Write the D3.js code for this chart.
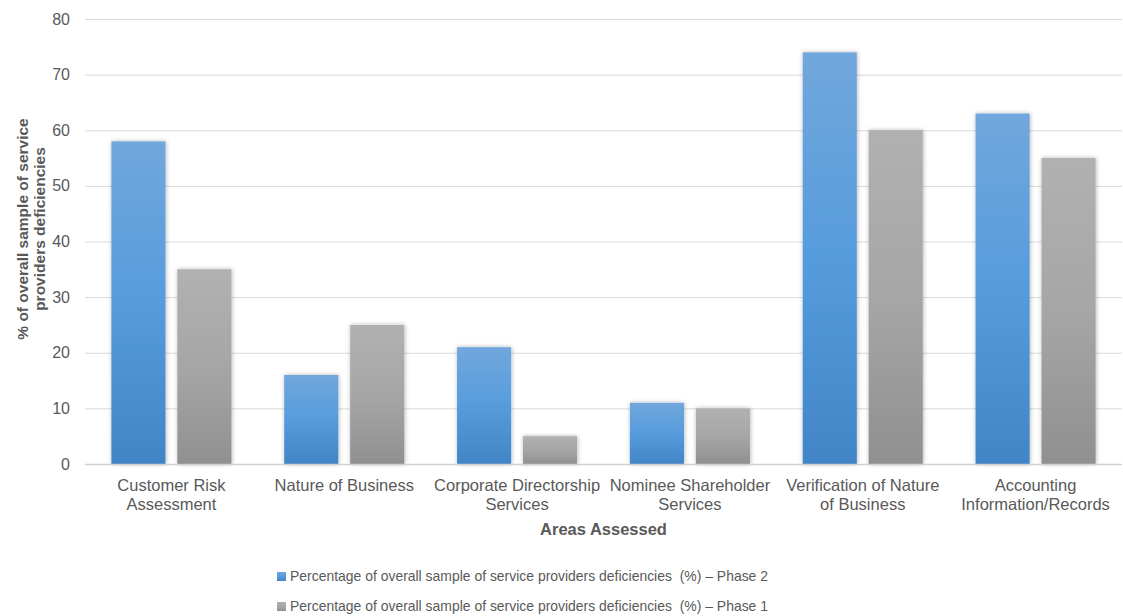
<!DOCTYPE html>
<html>
<head>
<meta charset="utf-8">
<script src="https://cdn.jsdelivr.net/npm/d3@7/dist/d3.min.js"></script>
<style>
  html, body { margin: 0; padding: 0; background: #fff; }
  svg { display: block; font-family: "Liberation Sans", Arial, sans-serif; }
</style>
</head>
<body>
<svg id="chart" width="1123" height="616"></svg>
<script>
const categories = [
  ["Customer Risk", "Assessment"],
  ["Nature of Business"],
  ["Corporate Directorship", "Services"],
  ["Nominee Shareholder", "Services"],
  ["Verification of Nature", "of Business"],
  ["Accounting", "Information/Records"]
];
const phase2 = [58, 16, 21, 11, 74, 63];
const phase1 = [35, 25, 5, 10, 60, 55];
const yTicks = [0, 10, 20, 30, 40, 50, 60, 70, 80];
const seriesNames = [
  "Percentage of overall sample of service providers deficiencies  (%) \u2013 Phase 2",
  "Percentage of overall sample of service providers deficiencies  (%) \u2013 Phase 1"
];
const yTitle = ["% of overall sample of service", "providers deficiencies"];
const xTitle = "Areas Assessed";

(function() {
const svg = d3.select("#chart");
const pLeft = 85, pRight = 1122, pTop = 19, pBottom = 464;

const defs = svg.append("defs");
const gBlue = defs.append("linearGradient").attr("id", "gBlue").attr("x1", 0).attr("y1", 0).attr("x2", 0).attr("y2", 1);
gBlue.append("stop").attr("offset", "0%").attr("stop-color", "#71a7dc");
gBlue.append("stop").attr("offset", "50%").attr("stop-color", "#569cdd");
gBlue.append("stop").attr("offset", "100%").attr("stop-color", "#4185c6");
const gGray = defs.append("linearGradient").attr("id", "gGray").attr("x1", 0).attr("y1", 0).attr("x2", 0).attr("y2", 1);
gGray.append("stop").attr("offset", "0%").attr("stop-color", "#b1b1b1");
gGray.append("stop").attr("offset", "50%").attr("stop-color", "#a6a6a6");
gGray.append("stop").attr("offset", "100%").attr("stop-color", "#909090");
const f = defs.append("filter").attr("id", "shadow").attr("x", "-20%").attr("y", "-10%").attr("width", "140%").attr("height", "120%");
f.append("feDropShadow").attr("dx", 0.5).attr("dy", 0).attr("stdDeviation", 2).attr("flood-color", "#000").attr("flood-opacity", 0.3);

const x = d3.scaleBand().domain(d3.range(categories.length)).range([pLeft, pRight]).paddingInner(0).paddingOuter(0);
const xs = d3.scaleBand().domain([0, 1]).range([0, x.bandwidth()]).paddingInner(0.18).paddingOuter(0.4);
const y = d3.scaleLinear().domain([0, 80]).range([pBottom, pTop]);

svg.append("g").selectAll("line").data(yTicks.filter(d => d > 0)).join("line")
  .attr("x1", pLeft).attr("x2", pRight)
  .attr("y1", d => y(d) + 0.5).attr("y2", d => y(d) + 0.5)
  .attr("stroke", "#d9d9d9").attr("stroke-width", 1);

svg.append("g").selectAll("text").data(yTicks).join("text")
  .attr("x", 70).attr("y", d => y(d))
  .attr("dy", "0.35em").attr("text-anchor", "end")
  .attr("font-size", 16).attr("fill", "#595959")
  .text(d => d);

const series = [phase2, phase1];
const fills = ["url(#gBlue)", "url(#gGray)"];
series.forEach((vals, si) => {
  svg.append("g").selectAll("rect").data(vals).join("rect")
    .attr("x", (d, i) => x(i) + xs(si))
    .attr("width", xs.bandwidth())
    .attr("y", d => y(d))
    .attr("height", d => y(0) - y(d))
    .attr("fill", fills[si])
    .attr("filter", "url(#shadow)");
});

svg.append("line").attr("x1", pLeft).attr("x2", pRight)
  .attr("y1", pBottom + 0.5).attr("y2", pBottom + 0.5)
  .attr("stroke", "#d0d0d0").attr("stroke-width", 1.5);

const xl = svg.append("g").selectAll("text").data(categories).join("text")
  .attr("text-anchor", "middle").attr("font-size", 16.5).attr("fill", "#595959")
  .attr("x", (d, i) => x(i) + x.bandwidth() / 2)
  .attr("y", 491);
xl.each(function(d, i) {
  const cx = x(i) + x.bandwidth() / 2;
  d3.select(this).selectAll("tspan").data(d).join("tspan")
    .attr("x", cx)
    .attr("dy", (t, j) => j === 0 ? 0 : 19)
    .text(t => t);
});

svg.append("text").attr("x", (pLeft + pRight) / 2).attr("y", 535).attr("text-anchor", "middle")
  .attr("font-size", 16.5).attr("font-weight", "bold").attr("fill", "#595959").text(xTitle);

const yt = svg.append("text").attr("transform", "translate(28,229) rotate(-90)")
  .attr("text-anchor", "middle").attr("font-size", 15.5).attr("font-weight", "bold").attr("fill", "#595959");
yt.selectAll("tspan").data(yTitle).join("tspan")
  .attr("x", 0).attr("dy", (d, i) => i === 0 ? 0 : 17).text(d => d);

const lg = svg.append("g").selectAll("g").data(seriesNames).join("g")
  .attr("transform", (d, i) => `translate(277, ${581 + i * 30})`);
lg.append("rect").attr("x", 0).attr("y", -9).attr("width", 9).attr("height", 9)
  .attr("fill", (d, i) => fills[i]);
lg.append("text").attr("x", 13).attr("y", 0)
  .attr("font-size", 15).attr("fill", "#595959")
  .attr("textLength", 478).attr("lengthAdjust", "spacingAndGlyphs")
  .style("white-space", "pre").text(d => d);
})();
</script>
</body>
</html>
